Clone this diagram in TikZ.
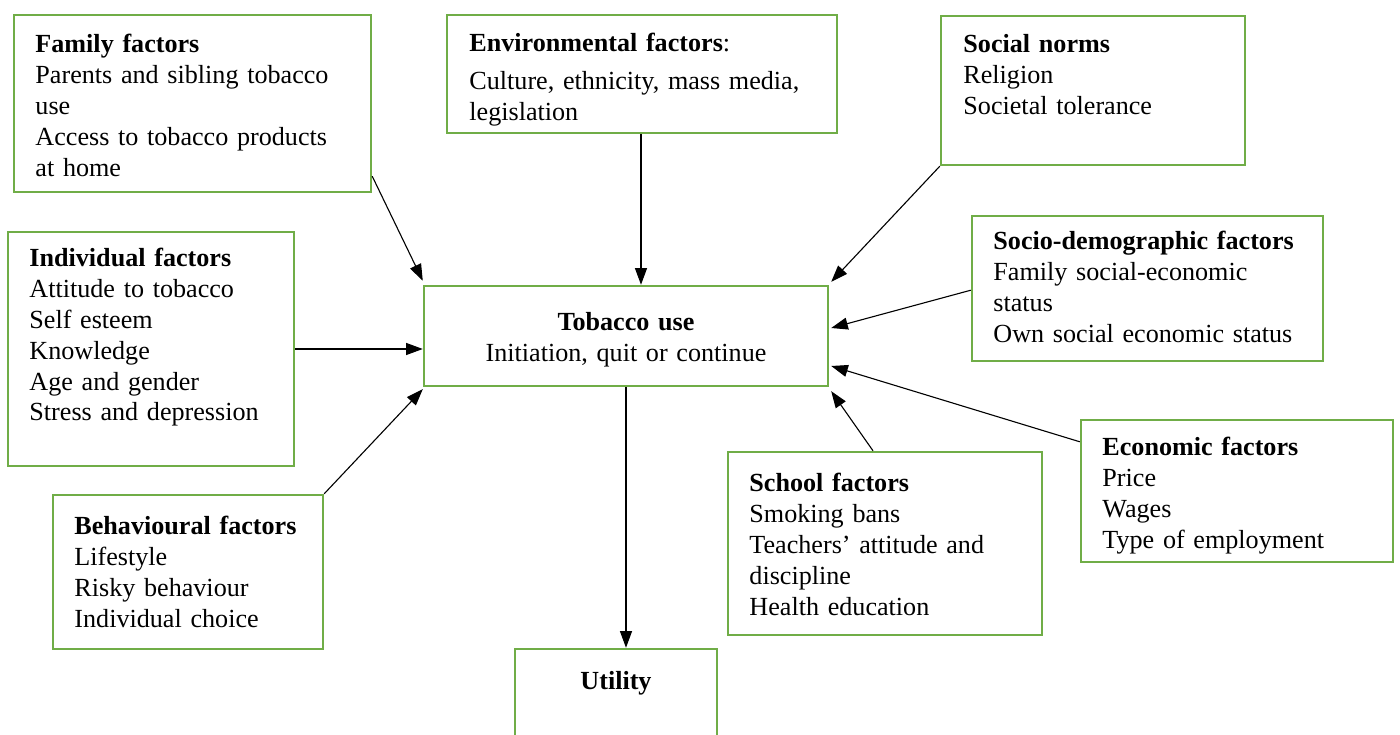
\documentclass[tikz,border=0pt]{standalone}
\usepackage{fontspec}
\setmainfont{Liberation Serif}
\usepackage{xcolor}
\usetikzlibrary{arrows.meta}
\usetikzlibrary{fit,calc}

\definecolor{boxgreen}{HTML}{70AD47}

\begin{document}
\begin{tikzpicture}[x=0.4517pt,y=-0.4517pt,
  box/.style={draw=boxgreen,line width=1.1pt,inner sep=0pt},
  txt/.style={inner sep=0pt,align=left,text width=220pt,anchor=base west,
    font=\fontsize{11.8}{13.9}\selectfont},
  ctxt/.style={inner sep=0pt,align=center,text width=160pt,anchor=base,
    font=\fontsize{11.8}{13.9}\selectfont},
  arr/.style={-{Triangle[length=7.5pt,width=5.4pt]},line width=0.5pt}]
\useasboundingbox (0,0) rectangle (1400,735);

% the boxes
\node[box,fit={(14,15)(371,192)}] (family) {};
\node[box,fit={(447,15)(837,133)}] (env) {};
\node[box,fit={(941,16)(1245,165)}] (social) {};
\node[box,fit={(972,216)(1323,361)}] (socio) {};
\node[box,fit={(8,232)(294,466)}] (indiv) {};
\node[box,fit={(424,286)(828,386)}] (tob) {};
\node[box,fit={(53,495)(323,649)}] (behav) {};
\node[box,fit={(728,452)(1042,635)}] (school) {};
\node[box,fit={(1081,420)(1393,562)}] (econ) {};
\node[box,fit={(515,649)(717,760)}] (util) {};

% the texts in them
\node[txt] (familytxt) at (35,53) {\textbf{Family factors}\\
  Parents and sibling tobacco\\use\\Access to tobacco products\\at home};
\node[txt] (envtxt) at (469,52) {\textbf{Environmental factors}:\\[3pt]
  Culture, ethnicity, mass media,\\legislation};
\node[txt] (socialtxt) at (963,53) {\textbf{Social norms}\\Religion\\Societal tolerance};
\node[txt] (sociotxt) at (993,250) {\textbf{Socio-demographic factors}\\
  Family social-economic\\status\\Own social economic status};
\node[txt] (indivtxt) at (29,267) {\textbf{Individual factors}\\Attitude to tobacco\\
  Self esteem\\Knowledge\\Age and gender\\Stress and depression};
\node[ctxt] (tobtxt) at (626,331) {\textbf{Tobacco use}\\Initiation, quit or continue};
\node[txt] (behavtxt) at (74,535) {\textbf{Behavioural factors}\\Lifestyle\\
  Risky behaviour\\Individual choice};
\node[txt] (schooltxt) at (749,492) {\textbf{School factors}\\Smoking bans\\
  Teachers' attitude and\\discipline\\Health education};
\node[txt] (econtxt) at (1102,456) {\textbf{Economic factors}\\Price\\Wages\\Type of employment};
\node[ctxt] (utiltxt) at (616,690) {\textbf{Utility}};

% arrows into tobacco use
\draw[arr] ([shift={(0,-17)}]family.south east) -- ([shift={(0,-4)}]tob.north west);
\draw[arr] ([shift={(-1,0)}]env.south) -- ([shift={(-1,0)}]env.south |- tob.north);
\draw[arr] (social.south west) -- ([shift={(2,-3)}]tob.north east);
\draw[arr] ([shift={(0,-72)}]socio.south west) -- ([shift={(2,-8)}]tob.east);
\draw[arr] (indiv.east) -- (indiv.east -| tob.west);
\draw[arr] (behav.north east) -- ([shift={(0,2)}]tob.south west);
\draw[arr] ([shift={(-12,0)}]school.north) -- ([shift={(2,4)}]tob.south east);
\draw[arr] ([shift={(0,23)}]econ.north west) -- ([shift={(2,30)}]tob.east);
\draw[arr] (tob.south) -- (tob.south |- util.north);
\end{tikzpicture}
\end{document}
